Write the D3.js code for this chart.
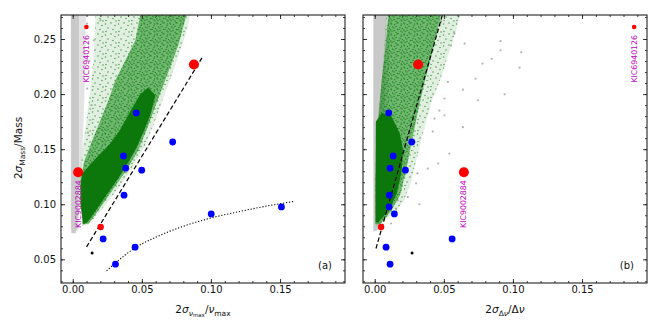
<!DOCTYPE html>
<html>
<head>
<meta charset="utf-8">
<script src="https://cdn.jsdelivr.net/npm/d3@7"></script>
<style>
  body { margin: 0; background: #fff; }
  svg { font-family: "DejaVu Sans", sans-serif; }
</style>
</head>
<body>
<svg id="chart" width="662" height="331"></svg>
<script>
// ---- data ----
const majorX = [0, 0.05, 0.10, 0.15];
const majorY = [0.05, 0.10, 0.15, 0.20, 0.25];

// blue stars: mass error, numax error, dnu error
const blueMass  = [0.1829, 0.1565, 0.1438, 0.1327, 0.1309, 0.1082, 0.0912, 0.0976, 0.0685, 0.0610, 0.0456];
const blueNumax = [0.0460, 0.0723, 0.0367, 0.0383, 0.0499, 0.0371, 0.1002, 0.1510, 0.0220, 0.0451, 0.0309];
const blueDnu   = [0.0101, 0.0268, 0.0133, 0.0111, 0.0222, 0.0106, 0.0142, 0.0104, 0.0560, 0.0082, 0.0111];

// red stars
const redNames = ['KIC9002884', '', '', 'KIC6940126'];
const redMass  = [0.1290, 0.2268, 0.0794, 0.2609];
const redNumax = [0.0039, 0.0877, 0.0202, 0.0099];
const redDnu   = [0.0645, 0.0314, 0.0046, 0.1877];

// black star
const blackMass = [0.0558];
const blackNumax = [0.0140];
const blackDnu = [0.0270];

// fitted relations
const dashA = [[0.0100, 0.0613], [0.0939, 0.2337]];
const dashB = [[0.0009, 0.0598], [0.0500, 0.2766]];
const dotAx = [0.0245, 0.031, 0.045, 0.060, 0.080, 0.100, 0.120, 0.140, 0.160];
const dotAy = [0.0395, 0.0468, 0.0603, 0.0700, 0.0800, 0.0875, 0.0932, 0.0983, 0.1025];

// simulated population envelopes (green) and grey sample, panel (a)
const greenSparseA = [[0.0070,0.0800],[0.0048,0.1218],[0.0070,0.1490],[0.0099,0.1762],[0.0128,0.2034],[0.0150,0.2307],[0.0164,0.2718],
  [0.0850,0.2718],[0.0815,0.2534],[0.0742,0.2261],[0.0670,0.2016],[0.0598,0.1762],[0.0525,0.1535],[0.0431,0.1327],[0.0330,0.1145],[0.0229,0.0981],[0.0142,0.0854]];
const greenMidA = [[0.0070,0.0818],[0.0056,0.1218],[0.0085,0.1400],[0.0142,0.1581],[0.0200,0.1762],[0.0258,0.1944],[0.0309,0.2125],[0.0381,0.2307],[0.0453,0.2488],[0.0489,0.2718],
  [0.0822,0.2718],[0.0764,0.2443],[0.0691,0.2198],[0.0619,0.1962],[0.0547,0.1717],[0.0475,0.1490],[0.0388,0.1309],[0.0287,0.1127],[0.0186,0.0945],[0.0113,0.0818]];
const greenDenseA = [[0.0077,0.0818],[0.0056,0.0991],[0.0056,0.1172],[0.0068,0.1280],[0.0176,0.1430],[0.0270,0.1550],[0.0340,0.1670],[0.0420,0.1850],[0.0490,0.2000],[0.0545,0.2060],
  [0.0598,0.1989],[0.0561,0.1808],[0.0511,0.1653],[0.0460,0.1508],[0.0402,0.1381],[0.0330,0.1236],[0.0243,0.1082],[0.0157,0.0926],[0.0106,0.0836]];
const greyHaloA = [[-0.0015,0.0760],[-0.0015,0.2718],[0.0095,0.2718],[0.0085,0.2000],[0.0070,0.1500],[0.0050,0.1000],[0.0040,0.0760]];
const greyCoreA = [[-0.0010,0.0740],[-0.0012,0.2718],[0.0045,0.2718],[0.0045,0.1200],[0.0035,0.0800],[0.0020,0.0735]];
const greyDotsA = [[0.0104,0.2640],[0.0200,0.2670],[0.0152,0.2488],[0.0120,0.2300],[0.0105,0.2050],[0.0135,0.1900],[0.0110,0.1650]];

// panel (b)
const greenSparseB = [[0.0006,0.0800],[0.0002,0.1127],[0.0009,0.1490],[0.0024,0.1762],[0.0046,0.2034],[0.0067,0.2397],[0.0082,0.2718],
  [0.0618,0.2718],[0.0589,0.2579],[0.0531,0.2352],[0.0473,0.2125],[0.0415,0.1944],[0.0364,0.1717],[0.0328,0.1535],[0.0292,0.1354],[0.0256,0.1172],[0.0212,0.1036],[0.0147,0.0926],[0.0075,0.0854],[0.0031,0.0800]];
const greenMidB = [[0.0006,0.0818],[0.0006,0.1218],[0.0017,0.1581],[0.0030,0.1853],[0.0050,0.2125],[0.0075,0.2397],[0.0100,0.2718],
  [0.0480,0.2718],[0.0420,0.2397],[0.0364,0.2125],[0.0314,0.1853],[0.0270,0.1581],[0.0227,0.1309],[0.0183,0.1082],[0.0111,0.0926],[0.0038,0.0818]];
const greenDenseB = [[0.0006,0.0836],[0.0006,0.1218],[0.0008,0.1750],[0.0050,0.1830],[0.0120,0.1800],[0.0180,0.1650],[0.0205,0.1500],[0.0195,0.1300],
  [0.0160,0.1100],[0.0110,0.0960],[0.0050,0.0870],[0.0024,0.0836]];
const greyHaloB = [[-0.0012,0.0760],[-0.0012,0.2718],[0.0115,0.2718],[0.0095,0.2000],[0.0065,0.1200],[0.0045,0.0800]];
const greyCoreB = [[-0.0008,0.0750],[-0.0008,0.2718],[0.0085,0.2718],[0.0075,0.2000],[0.0055,0.1200],[0.0038,0.0780]];
const greyDotsB = [[0.065,0.2458],[0.091,0.2480],[0.106,0.2380],[0.091,0.2398],[0.0847,0.2320],[0.078,0.2277],[0.0729,0.2140],[0.1048,0.2240],
  [0.094,0.1998],[0.0746,0.1944],[0.0638,0.2040],[0.0529,0.2110],[0.0504,0.1960],[0.0468,0.1850],[0.0432,0.1778],[0.042,0.1660],[0.0504,0.1808],
  [0.0638,0.1700],[0.054,0.1460],[0.0459,0.1370],[0.0384,0.1324],[0.0309,0.1280],[0.0299,0.1190],[0.0323,0.1000],[0.0239,0.1066],[0.0167,0.1036],
  [0.0154,0.0960],[0.0058,0.0885],[0.0118,0.0825],[0.048,0.2655],[0.0577,0.2549],[0.0553,0.2440]];

// ---- layout ----
const svg = d3.select('#chart');
const panelW = 284, panelH = 268, topY = 15;
const panels = [
  {id: 'a', left: 61, tag: '(a)', xs: blueNumax, rx: redNumax, bx: blackNumax,
   sparse: greenSparseA, mid: greenMidA, dense: greenDenseA, greyHalo: greyHaloA, greyCore: greyCoreA, greyDots: greyDotsA, dash: dashA},
  {id: 'b', left: 363, tag: '(b)', xs: blueDnu, rx: redDnu, bx: blackDnu,
   sparse: greenSparseB, mid: greenMidB, dense: greenDenseB, greyHalo: greyHaloB, greyCore: greyCoreB, greyDots: greyDotsB, dash: dashB}
];

const y = d3.scaleLinear().domain([0.0285, 0.2718]).range([topY + panelH, topY]);
const minorX = d3.range(0, 0.195, 0.01);
const minorY = d3.range(0.03, 0.275, 0.01);
const redR = [5, 5, 3.2, 2.3];

// speckle textures so the envelopes read as a cloud of points
const defs = svg.append('defs');
function speckle(id, color, bgOpacity, spots){
  const pat = defs.append('pattern').attr('id', id).attr('patternUnits', 'userSpaceOnUse')
    .attr('width', 13).attr('height', 11);
  pat.append('rect').attr('width', 13).attr('height', 11).attr('fill', '#008000').attr('opacity', bgOpacity);
  pat.selectAll('circle').data(spots).enter().append('circle')
    .attr('cx', d => d[0]).attr('cy', d => d[1]).attr('r', 0.75).attr('fill', color).attr('opacity', 0.8);
}
speckle('sparse', '#2a8a2a', 0.12,
  [[1.5, 2], [7, 1], [11, 3.5], [4, 6], [9, 7.5], [2, 9.5], [12, 10]]);
speckle('mid', '#137c13', 0.5,
  [[1, 1], [4.5, 2.5], [8, 0.8], [11.5, 2], [2.5, 5], [6, 4.5], [10, 5.5], [0.8, 8], [4, 8.5], [7.5, 7.5], [11, 9], [6, 10.3], [12.5, 6.5]]);

panels.forEach(function(p){
  const x = d3.scaleLinear().domain([-0.0085, 0.197]).range([p.left, p.left + panelW]);
  const g = svg.append('g');

  g.append('clipPath').attr('id', 'clip-' + p.id)
    .append('rect').attr('x', p.left).attr('y', topY).attr('width', panelW).attr('height', panelH);
  const plot = g.append('g').attr('clip-path', 'url(#clip-' + p.id + ')');

  const area = d3.line().x(d => x(d[0])).y(d => y(d[1])).curve(d3.curveLinearClosed);

  // grey sample
  plot.append('path').attr('d', area(p.greyHalo)).attr('fill', '#c8c8c8').attr('opacity', 0.5);
  plot.append('path').attr('d', area(p.greyCore)).attr('fill', '#c9c9c9');
  plot.selectAll('.gdot').data(p.greyDots).enter().append('circle')
    .attr('cx', d => x(d[0])).attr('cy', d => y(d[1])).attr('r', 1.1).attr('fill', '#b4b4b4');

  // simulated population
  plot.append('path').attr('d', area(p.sparse)).attr('fill', 'url(#sparse)');
  plot.append('path').attr('d', area(p.mid)).attr('fill', 'url(#mid)');
  plot.append('path').attr('d', area(p.dense)).attr('fill', '#0c780c');

  // fitted lines
  plot.append('path').datum(p.dash)
    .attr('d', d3.line().x(d => x(d[0])).y(d => y(d[1])))
    .attr('fill', 'none').attr('stroke', '#000').attr('stroke-width', 1.2).attr('stroke-dasharray', '4.5,2.5');
  if(p.id === 'a'){
    plot.append('path').datum(d3.zip(dotAx, dotAy))
      .attr('d', d3.line().x(d => x(d[0])).y(d => y(d[1])).curve(d3.curveMonotoneX))
      .attr('fill', 'none').attr('stroke', '#000').attr('stroke-width', 1.1).attr('stroke-dasharray', '1.2,1.8');
  }

  // stars
  plot.selectAll('.blue').data(d3.zip(p.xs, blueMass)).enter().append('circle')
    .attr('cx', d => x(d[0])).attr('cy', d => y(d[1])).attr('r', 3.4).attr('fill', '#0000ff');
  plot.selectAll('.black').data(d3.zip(p.bx, blackMass)).enter().append('circle')
    .attr('cx', d => x(d[0])).attr('cy', d => y(d[1])).attr('r', 1.5).attr('fill', '#000');
  plot.selectAll('.red').data(d3.zip(p.rx, redMass)).enter().append('circle')
    .attr('cx', d => x(d[0])).attr('cy', d => y(d[1])).attr('r', (d, i) => redR[i]).attr('fill', '#ff0000');

  // star names, rotated under the point
  redNames.forEach(function(name, i){
    if(!name) return;
    const px = x(p.rx[i]), py = y(redMass[i]) + 8;
    g.append('text').attr('transform', 'translate(' + px + ',' + py + ') rotate(-90)')
      .attr('text-anchor', 'end').attr('dominant-baseline', 'central')
      .attr('font-size', 7.8).attr('fill', '#bf00bf').text(name);
  });

  // axes: ticks inside on all four sides
  const bottom = topY + panelH, right = p.left + panelW;
  g.append('g').attr('transform', 'translate(0,' + bottom + ')')
    .call(d3.axisBottom(x).tickValues(majorX).tickSize(-4).tickPadding(3).tickFormat(d3.format('.2f')));
  g.append('g').attr('transform', 'translate(0,' + bottom + ')')
    .call(d3.axisBottom(x).tickValues(minorX).tickSize(-2).tickFormat(''));
  g.append('g').attr('transform', 'translate(0,' + topY + ')')
    .call(d3.axisTop(x).tickValues(majorX).tickSize(-4).tickFormat(''));
  g.append('g').attr('transform', 'translate(0,' + topY + ')')
    .call(d3.axisTop(x).tickValues(minorX).tickSize(-2).tickFormat(''));
  g.append('g').attr('transform', 'translate(' + p.left + ',0)')
    .call(d3.axisLeft(y).tickValues(majorY).tickSize(-4).tickPadding(5)
      .tickFormat(p.id === 'a' ? d3.format('.2f') : ''));
  g.append('g').attr('transform', 'translate(' + p.left + ',0)')
    .call(d3.axisLeft(y).tickValues(minorY).tickSize(-2).tickFormat(''));
  g.append('g').attr('transform', 'translate(' + right + ',0)')
    .call(d3.axisRight(y).tickValues(majorY).tickSize(-4).tickFormat(''));
  g.append('g').attr('transform', 'translate(' + right + ',0)')
    .call(d3.axisRight(y).tickValues(minorY).tickSize(-2).tickFormat(''));
  g.selectAll('.domain').remove();
  g.selectAll('.tick line').attr('stroke', '#222').attr('stroke-width', 0.9);
  g.selectAll('.tick text').attr('font-size', 10).attr('fill', '#111').attr('font-family', '"DejaVu Sans", sans-serif');

  g.append('rect').attr('x', p.left).attr('y', topY).attr('width', panelW).attr('height', panelH)
    .attr('fill', 'none').attr('stroke', '#222').attr('stroke-width', 1.1);

  g.append('text').attr('x', right - 13).attr('y', bottom - 14).attr('text-anchor', 'end')
    .attr('font-size', 10).attr('fill', '#111').text(p.tag);
});

// axis titles
const yt = svg.append('text').attr('transform', 'translate(22,148) rotate(-90)')
  .attr('text-anchor', 'middle').attr('font-size', 10.5).attr('fill', '#111');
yt.append('tspan').text('2');
yt.append('tspan').attr('font-style', 'italic').text('σ');
yt.append('tspan').attr('font-size', 7.5).attr('dy', 2.5).text('Mass');
yt.append('tspan').attr('dy', -2.5).text('/Mass');

const xa = svg.append('text').attr('x', 203).attr('y', 313)
  .attr('text-anchor', 'middle').attr('font-size', 10.5).attr('fill', '#111');
xa.append('tspan').text('2');
xa.append('tspan').attr('font-style', 'italic').text('σ');
xa.append('tspan').attr('font-size', 7.5).attr('font-style', 'italic').attr('dy', 2.5).text('ν');
xa.append('tspan').attr('font-size', 5.5).attr('dy', 1.5).text('max');
xa.append('tspan').attr('dy', -4).text('/');
xa.append('tspan').attr('font-style', 'italic').text('ν');
xa.append('tspan').attr('font-size', 7.5).attr('dy', 2.5).text('max');

const xb = svg.append('text').attr('x', 505).attr('y', 313)
  .attr('text-anchor', 'middle').attr('font-size', 10.5).attr('fill', '#111');
xb.append('tspan').text('2');
xb.append('tspan').attr('font-style', 'italic').text('σ');
xb.append('tspan').attr('font-size', 7.5).attr('dy', 2.5).text('Δ');
xb.append('tspan').attr('font-size', 7.5).attr('font-style', 'italic').text('ν');
xb.append('tspan').attr('dy', -2.5).text('/Δ');
xb.append('tspan').attr('font-style', 'italic').text('ν');
</script>
</body>
</html>
